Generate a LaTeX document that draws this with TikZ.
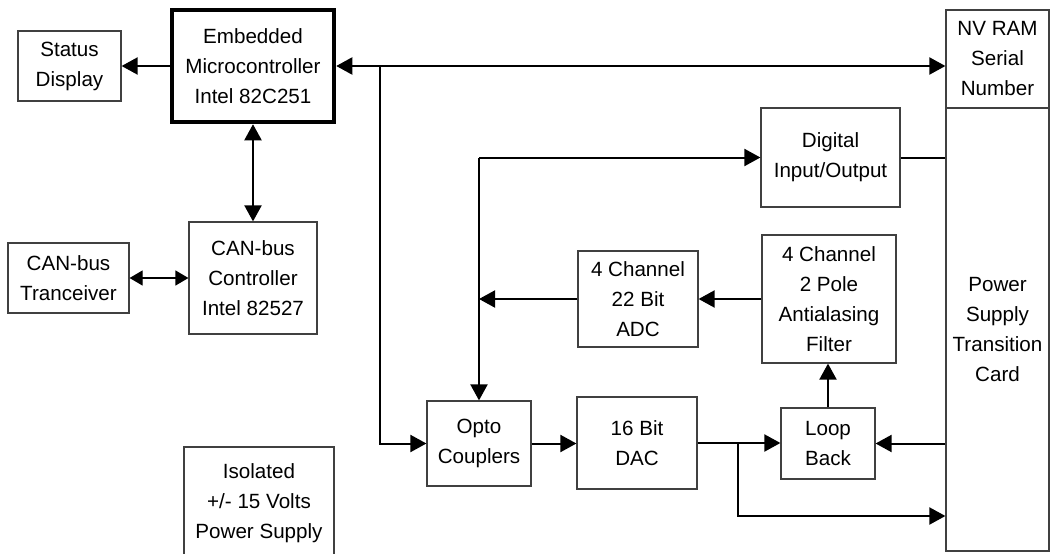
\documentclass[tikz,border=0pt]{standalone}
\usepackage{fontspec}
\setmainfont{Liberation Sans}
\usetikzlibrary{arrows.meta}
\begin{document}
\begin{tikzpicture}[x=1pt,y=-1pt,
 box/.style={draw=black!75,line width=1.2pt,inner sep=0pt,align=center,font=\fontsize{20.6}{30}\selectfont},
 conn/.style={line width=2pt,-{Triangle[length=16pt,width=17pt]}},
 conntwo/.style={line width=2pt,{Triangle[length=16pt,width=17pt]}-{Triangle[length=16pt,width=17pt]}},
 thinconn/.style={line width=1.2pt,{Triangle[length=13pt,width=15pt]}-{Triangle[length=13pt,width=15pt]}},
 plain/.style={line width=2pt}]
\useasboundingbox (0,0) rectangle (1050,554);

% nodes
\node[box,minimum width=103pt,minimum height=70pt] (status) at (69.5,66) {Status\\Display};
\node[box,draw=black,line width=4.5pt,minimum width=162pt,minimum height=112pt] (emb) at (253,66) {Embedded\\Microcontroller\\Intel 82C251};
\node[box,minimum width=103pt,minimum height=98pt] (nv) at (997.5,59) {NV RAM\\Serial\\Number};
\node[box,minimum width=103pt,minimum height=443pt] (ps) at (997.5,329.5) {Power\\Supply\\Transition\\Card};
\node[box,minimum width=139pt,minimum height=99pt] (dio) at (830.5,157.5) {Digital\\Input/Output};
\node[box,minimum width=134pt,minimum height=128pt] (filt) at (829,299) {4 Channel\\2 Pole\\Antialasing\\Filter};
\node[box,minimum width=120pt,minimum height=96pt] (adc) at (638,299) {4 Channel\\22 Bit\\ADC};
\node[box,minimum width=128pt,minimum height=112pt] (ctrl) at (253,278) {CAN-bus\\Controller\\Intel 82527};
\node[box,minimum width=121pt,minimum height=70pt] (trx) at (68.5,278) {CAN-bus\\Tranceiver};
\node[box,minimum width=104pt,minimum height=85pt] (opto) at (479,443.5) {Opto\\Couplers};
\node[box,minimum width=120pt,minimum height=92pt] (dac) at (637,443) {16 Bit\\DAC};
\node[box,minimum width=94pt,minimum height=71pt] (loop) at (828,443.5) {Loop\\Back};
\node[box,draw=none] (iso) at (259,503) {Isolated\\+/- 15 Volts\\Power Supply};
\draw[draw=black!75,line width=1.2pt] (184,554) -- (184,447) -- (334,447) -- (334,554);

% junctions
\coordinate (j1) at (380,66);
\coordinate (j2) at (479,157.5);
\coordinate (j3) at (738,443);
\coordinate (j4) at (738,516);

% connectors
\draw[conn] (emb) -- (status);
\draw[conntwo] (emb.east) -- (emb.east -| nv.west);
\draw[conn] (j1) |- (opto.west);
\draw[conntwo] (emb) -- (ctrl);
\draw[thinconn] (trx) -- (ctrl);
\draw[conn] (j2) -- (dio);
\draw[conn] (j2) -- (opto.north);
\draw[conn] (adc.west) -- (adc.west -| j2);
\draw[conn] (filt) -- (adc);
\draw[plain] (dio.east) -- (dio.east -| ps.west);
\draw[conn] (loop.north) -- (loop.north |- filt.south);
\draw[conn] (ps.west |- loop.east) -- (loop.east);
\draw[conn] (opto.east) -- (opto.east -| dac.west);
\draw[conn] (dac.east) -- (dac.east -| loop.west);
\draw[conn] (j3) -- (j4) -- (j4 -| ps.west);
\end{tikzpicture}
\end{document}
